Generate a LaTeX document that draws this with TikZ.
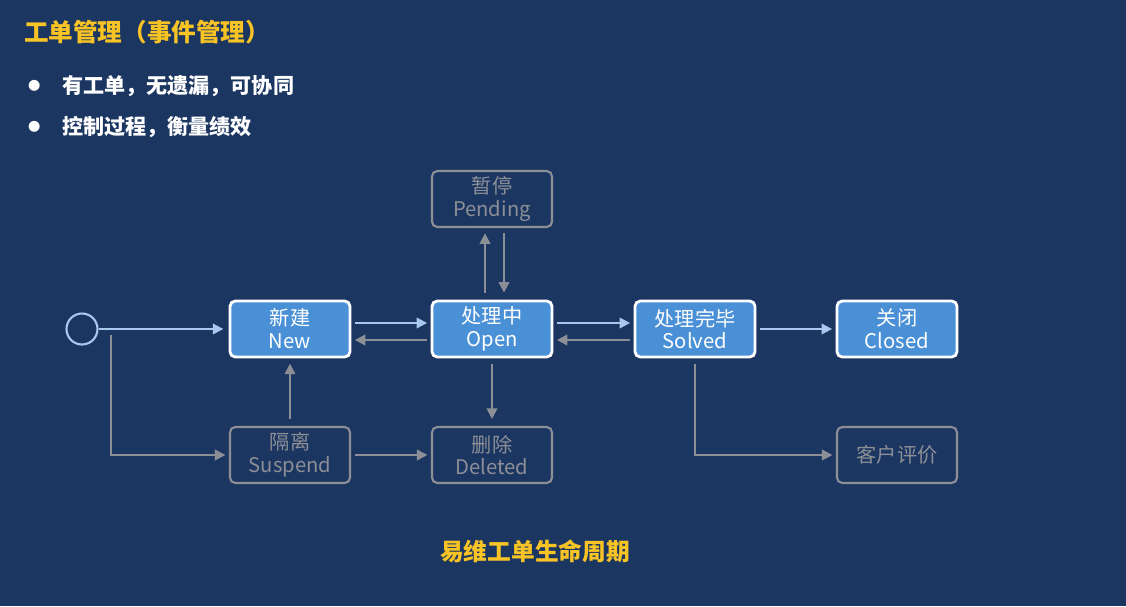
\documentclass[tikz,border=0pt]{standalone}
\usepackage{fontspec}
\setmainfont{Liberation Sans}
\newfontfamily\cjk{Noto Sans CJK SC}
\usetikzlibrary{positioning,arrows.meta}
\definecolor{bgblue}{HTML}{1C3662}
\definecolor{boxblue}{HTML}{4A90D6}
\definecolor{lineblue}{HTML}{A9C8EE}
\definecolor{greyline}{HTML}{8C8F96}
\definecolor{titleyellow}{HTML}{F7C325}

\begin{document}
\begin{tikzpicture}[x=0.02cm,y=-0.02cm]
    % Stili
    \tikzset{
        active_state/.style={
            draw=white, fill=boxblue, text=white, line width=1.6pt,
            rounded corners=3pt, minimum width=2.4cm, minimum height=1.12cm,
            align=center, font=\cjk\fontsize{11.5}{13}\selectfont, inner sep=1pt
        },
        idle_state/.style={
            draw=greyline, text=greyline, line width=1.2pt,
            rounded corners=3pt, minimum width=2.4cm, minimum height=1.12cm,
            align=center, font=\cjk\fontsize{11.5}{13}\selectfont, inner sep=1pt
        },
        blue_arrow/.style={-{Triangle[length=6pt,width=6pt]}, draw=lineblue, line width=1.2pt},
        grey_arrow/.style={-{Triangle[length=6pt,width=6pt]}, draw=greyline, line width=1.2pt}
    }

    % Sfondo
    \fill[bgblue] (0,0) rectangle (1126,606);

    % Titolo e punti
    \node[anchor=west, text=titleyellow, font=\cjk\bfseries\fontsize{14}{16}\selectfont] (title) at (18,32) {工单管理（事件管理）};
    \node[anchor=west, text=white, font=\cjk\fontsize{7}{8}\selectfont] (dot1) at (22,86) {●};
    \node[anchor=west, text=white, font=\cjk\bfseries\fontsize{12}{14}\selectfont] (point1) at (56,86) {有工单，无遗漏，可协同};
    \node[anchor=west, text=white, font=\cjk\fontsize{7}{8}\selectfont] (dot2) at (22,127) {●};
    \node[anchor=west, text=white, font=\cjk\bfseries\fontsize{12}{14}\selectfont] (point2) at (56,127) {控制过程，衡量绩效};

    % Stati
    \node[draw=lineblue, line width=1.2pt, circle, minimum size=0.62cm, inner sep=0pt] (start) at (82,329) {};
    \node[active_state] (new) at (290,329) {新建\\New};
    \node[active_state] (open) at (492,329) {处理中\\Open};
    \node[active_state] (solved) at (695,329) {处理完毕\\Solved};
    \node[active_state] (closed) at (897,329) {关闭\\Closed};
    \node[idle_state] (pending) at (492,199) {暂停\\Pending};
    \node[idle_state] (suspend) at (290,455) {隔离\\Suspend};
    \node[idle_state] (deleted) at (492,455) {删除\\Deleted};
    \node[idle_state] (review) at (897,455) {客户评价};

    % Frecce principali
    \draw[blue_arrow, shorten >=3pt] (start) -- (new);
    \draw[blue_arrow, shorten <=2pt, shorten >=2pt] ([yshift=0.12cm]new.east) -- ([yshift=0.12cm]open.west);
    \draw[grey_arrow, shorten <=2pt, shorten >=2pt] ([yshift=-0.22cm]open.west) -- ([yshift=-0.22cm]new.east);
    \draw[blue_arrow, shorten <=2pt, shorten >=2pt] ([yshift=0.12cm]open.east) -- ([yshift=0.12cm]solved.west);
    \draw[grey_arrow, shorten <=2pt, shorten >=2pt] ([yshift=-0.22cm]solved.west) -- ([yshift=-0.22cm]open.east);
    \draw[blue_arrow, shorten <=2pt, shorten >=2pt] (solved) -- (closed);

    % Frecce secondarie
    \draw[grey_arrow, shorten <=4pt, shorten >=3pt] ([xshift=-0.14cm]open.north) -- ([xshift=-0.14cm]pending.south);
    \draw[grey_arrow, shorten <=3pt, shorten >=4pt] ([xshift=0.24cm]pending.south) -- ([xshift=0.24cm]open.north);
    \draw[grey_arrow, shorten <=3pt, shorten >=4pt] (open) -- (deleted);
    \draw[grey_arrow, shorten <=4pt, shorten >=3pt] (suspend) -- (new);
    \draw[grey_arrow, shorten <=2pt, shorten >=2pt] (suspend) -- (deleted);
    \coordinate (fork) at (111,335);
    \draw[grey_arrow, shorten >=2pt] (fork) |- (suspend);
    \draw[grey_arrow, shorten <=3pt, shorten >=2pt] (solved.south) |- (review);

    % Didascalia
    \node[text=titleyellow, font=\cjk\bfseries\fontsize{13.5}{15}\selectfont] (caption) at (535,551) {易维工单生命周期};
\end{tikzpicture}
\end{document}
